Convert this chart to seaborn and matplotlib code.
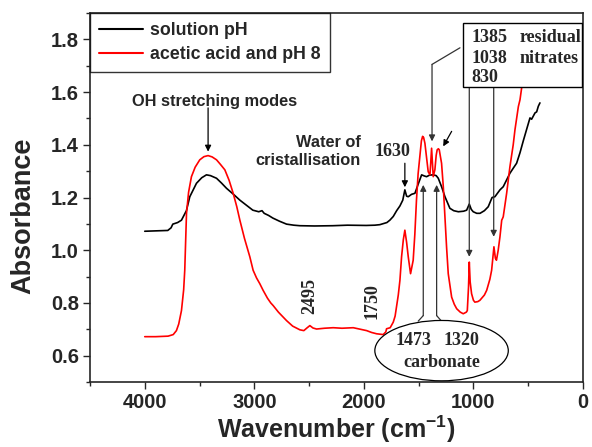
import numpy as np
import pandas as pd
import matplotlib
matplotlib.use("Agg")
import matplotlib.pyplot as plt
import seaborn as sns
from matplotlib.patches import Ellipse, Rectangle
from matplotlib.ticker import MultipleLocator

# spectrum 1: solution pH (black)
wn_solution = [4000, 3790, 3760, 3744, 3700, 3665, 3620, 3589, 3528, 3480, 3437, 3400,
               3345, 3300, 3254, 3190, 3132, 3070, 3014, 2960, 2930, 2910, 2870, 2831,
               2770, 2706, 2640, 2584, 2450, 2283, 2150, 1979, 1900, 1854, 1790, 1763,
               1732, 1701, 1671, 1645, 1626, 1610, 1595, 1565, 1534, 1505, 1473, 1450,
               1428, 1400, 1367, 1340, 1321, 1290, 1260, 1215, 1180, 1138, 1090, 1062,
               1038, 1020, 1002, 970, 940, 900, 865, 830, 804, 758, 728, 667, 637, 606,
               575, 545, 510, 484, 469, 438, 423, 408, 393]
abs_solution = [1.072, 1.075, 1.085, 1.099, 1.105, 1.114, 1.150, 1.203, 1.254, 1.275, 1.286, 1.283,
                1.273, 1.255, 1.235, 1.212, 1.190, 1.170, 1.152, 1.146, 1.150, 1.140, 1.132, 1.122,
                1.110, 1.099, 1.095, 1.093, 1.092, 1.093, 1.095, 1.094, 1.095, 1.097, 1.105, 1.114,
                1.128, 1.150, 1.168, 1.190, 1.229, 1.205, 1.203, 1.212, 1.216, 1.250, 1.286, 1.282,
                1.279, 1.285, 1.286, 1.283, 1.273, 1.240, 1.203, 1.159, 1.150, 1.146, 1.148, 1.152,
                1.175, 1.155, 1.146, 1.140, 1.140, 1.150, 1.165, 1.200, 1.203, 1.229, 1.241, 1.292, 1.311, 1.330,
                1.370, 1.415, 1.465, 1.502, 1.497, 1.521, 1.525, 1.546, 1.559]

# spectrum 2: acetic acid and pH 8 (red)
wn_acetic = [4000, 3900, 3787, 3740, 3711, 3690, 3665, 3645, 3635, 3619, 3600, 3574,
             3540, 3498, 3460, 3422, 3385, 3345, 3310, 3269, 3230, 3193, 3160, 3132,
             3090, 3041, 3011, 2980, 2950, 2920, 2880, 2850, 2828, 2780, 2740, 2706,
             2650, 2584, 2548, 2520, 2493, 2465, 2432, 2360, 2280, 2200, 2097, 2030,
             1975, 1930, 1884, 1824, 1800, 1793, 1760, 1732, 1715, 1701, 1686, 1671,
             1656, 1640, 1626, 1610, 1595, 1574, 1550, 1535, 1520, 1505, 1489, 1475,
             1464, 1455, 1443, 1425, 1413, 1397, 1390, 1382, 1374, 1367, 1352, 1340,
             1331, 1320, 1312, 1291, 1275, 1260, 1245, 1230, 1199, 1175, 1153, 1120,
             1093, 1065, 1056, 1045, 1038, 1030, 1017, 1000, 987, 960, 941, 900, 879,
             850, 834, 813, 800, 790, 774, 758, 742, 735, 728, 697, 667, 637, 621,
             606, 590, 575, 560, 540, 520]
abs_acetic = [0.672, 0.672, 0.674, 0.680, 0.695, 0.720, 0.771, 0.850, 0.924, 1.140, 1.220, 1.279,
              1.315, 1.343, 1.355, 1.359, 1.354, 1.343, 1.326, 1.305, 1.265, 1.216, 1.165, 1.114,
              1.045, 0.975, 0.924, 0.895, 0.873, 0.848, 0.818, 0.800, 0.790, 0.765, 0.748, 0.733,
              0.712, 0.698, 0.695, 0.705, 0.714, 0.705, 0.701, 0.704, 0.706, 0.704, 0.706, 0.700,
              0.695, 0.688, 0.683, 0.680, 0.690, 0.702, 0.706, 0.727, 0.750, 0.790, 0.830, 0.886,
              0.975, 1.040, 1.076, 1.030, 0.975, 0.911, 0.962, 1.060, 1.190, 1.290, 1.356, 1.415,
              1.432, 1.428, 1.406, 1.340, 1.298, 1.286, 1.330, 1.387, 1.330, 1.279, 1.305, 1.360,
              1.381, 1.385, 1.381, 1.330, 1.240, 1.127, 1.010, 0.911, 0.822, 0.795, 0.778, 0.765,
              0.759, 0.765, 0.771, 0.860, 0.955, 0.880, 0.835, 0.810, 0.803, 0.805, 0.810, 0.830, 0.848,
              0.890, 0.924, 1.013, 0.970, 0.962, 1.000, 1.051, 1.114, 1.120, 1.127, 1.216, 1.317, 1.400, 1.457,
              1.500, 1.545, 1.571, 1.616, 1.700, 1.800]

labels = ["solution pH", "acetic acid and pH 8"]

df = pd.concat([
    pd.DataFrame({"wn": wn_solution, "A": abs_solution, "sample": labels[0]}),
    pd.DataFrame({"wn": wn_acetic, "A": abs_acetic, "sample": labels[1]}),
])

sns.set_style("ticks")
plt.rcParams["font.family"] = ["Liberation Sans", "DejaVu Sans"]
plt.rcParams["mathtext.fontset"] = "custom"
plt.rcParams["mathtext.rm"] = "Liberation Sans:bold"
plt.rcParams["mathtext.bf"] = "Liberation Sans:bold"
plt.rcParams["mathtext.it"] = "Liberation Sans:bold"

fig = plt.figure(figsize=(5.92, 4.47), dpi=100)
ax = fig.add_axes([0.152, 0.1454, 0.8328, 0.8255])

sns.lineplot(data=df, x="wn", y="A", hue="sample", palette=["black", "#ff0000"],
             estimator=None, sort=False, units="sample", linewidth=1.2, ax=ax)

ax.set_xlim(4500, 0)
ax.set_ylim(0.5, 1.9)
ax.xaxis.set_major_locator(MultipleLocator(1000))
ax.xaxis.set_minor_locator(MultipleLocator(500))
ax.yaxis.set_minor_locator(MultipleLocator(0.1))
ax.set_yticks([0.6, 0.8, 1.0, 1.2, 1.4, 1.6, 1.8])
ax.tick_params(which="major", direction="out", length=5, width=1.0, labelsize=14.5, pad=3)
ax.tick_params(which="minor", direction="out", length=3, width=1.0)
for lab in ax.get_xticklabels() + ax.get_yticklabels():
    lab.set_fontweight("bold")
for sp in ax.spines.values():
    sp.set_visible(True)
    sp.set_linewidth(1.2)

ax.set_xlabel(r"Wavenumber (cm$^{-1}$)", fontsize=18, fontweight="bold", va="center")
ax.xaxis.set_label_coords(0.5, -0.128)
ax.set_ylabel("Absorbance", fontsize=19.5, fontweight="bold", va="center")
ax.yaxis.set_label_coords(-0.136, 0.45)

leg = ax.legend(loc="upper left", borderaxespad=0, frameon=True, fancybox=False,
                edgecolor="black", handlelength=2.5, labelspacing=0.4,
                prop={"family": "Liberation Sans", "weight": "bold", "size": 12.8},
                borderpad=0.5, handletextpad=0.4)
leg.get_frame().set_linewidth(1.0)
for line in leg.get_lines():
    line.set_linewidth(1.5)

serif = {"family": "Liberation Serif", "weight": "bold", "size": 13}
arrow = dict(arrowstyle="-|>", color="black", lw=0.9, mutation_scale=9, shrinkA=0, shrinkB=0)
grey = dict(arrowstyle="-|>", color="#333333", lw=0.9, mutation_scale=9, shrinkA=0, shrinkB=0)

# OH stretching
ax.text(3361, 1.565, "OH stretching modes", ha="center", va="center", fontsize=11.8, fontweight="bold")
ax.annotate("", xy=(3422, 1.374), xytext=(3422, 1.540), arrowprops=arrow)

# water of crystallisation
ax.text(2027, 1.374, "Water of\ncristallisation", ha="right", va="center", fontsize=11.8,
        fontweight="bold", multialignment="right", linespacing=1.3)
ax.text(1740, 1.373, "1630", ha="center", va="center", fontdict=serif)
ax.annotate("", xy=(1626, 1.239), xytext=(1626, 1.330), arrowprops=arrow)

# rotated labels
ax.text(2493, 0.825, "2495", rotation=90, ha="center", va="center", fontdict=serif)
ax.text(1930, 0.806, "1750", rotation=90, ha="center", va="center", fontdict=serif)

# residual nitrates box
ax.add_patch(Rectangle((1099, 1.620), -1093, 0.241, facecolor="white", edgecolor="black",
                       lw=1.0, zorder=5))
ax.text(1020, 1.806, "1385", ha="left", va="center", fontdict=serif, zorder=6)
ax.text(1020, 1.726, "1038", ha="left", va="center", fontdict=serif, zorder=6)
ax.text(1020, 1.654, "830", ha="left", va="center", fontdict=serif, zorder=6)
ax.text(575, 1.806, "residual", ha="left", va="center", fontdict=serif, zorder=6)
ax.text(575, 1.726, "nitrates", ha="left", va="center", fontdict=serif, zorder=6)
ax.plot([1123, 1378], [1.768, 1.705], color="#333333", lw=0.9)
ax.annotate("", xy=(1378, 1.413), xytext=(1378, 1.705), arrowprops=grey)
ax.annotate("", xy=(1038, 0.975), xytext=(1038, 1.620), arrowprops=grey)
ax.annotate("", xy=(815, 1.051), xytext=(815, 1.620), arrowprops=grey)
ax.annotate("", xy=(1276, 1.394), xytext=(1199, 1.451), arrowprops=arrow)

# carbonate ellipse
ax.add_patch(Ellipse((1291, 0.619), 1218, 0.229, facecolor="white", edgecolor="black", lw=0.9, zorder=4))
ax.text(1543, 0.657, "1473", ha="center", va="center", fontdict=serif, zorder=6)
ax.text(1108, 0.657, "1320", ha="center", va="center", fontdict=serif, zorder=6)
ax.text(1290, 0.575, "carbonate", ha="center", va="center", fontdict=serif, zorder=6)
ax.plot([1504, 1458], [0.731, 0.752], color="#333333", lw=0.9)
ax.plot([1230, 1336], [0.702, 0.752], color="#333333", lw=0.9)
ax.annotate("", xy=(1458, 1.248), xytext=(1458, 0.752), arrowprops=grey)
ax.annotate("", xy=(1336, 1.248), xytext=(1336, 0.752), arrowprops=grey)

fig.savefig("out.png", dpi=100)
